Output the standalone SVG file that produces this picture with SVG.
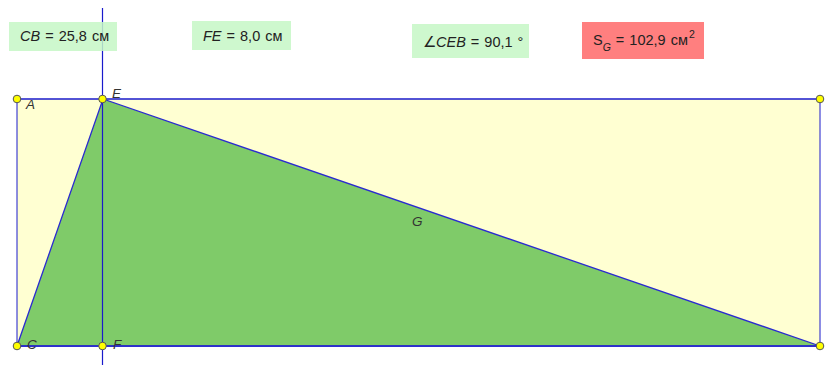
<svg xmlns="http://www.w3.org/2000/svg" width="829" height="365" viewBox="0 0 829 365">
<style>
.t{font-family:"Liberation Sans",Arial,sans-serif;font-size:14.5px;fill:#222}
.lbl{font-family:"Liberation Sans",Arial,sans-serif;font-size:13.5px;font-style:italic;fill:#333}
.edge{stroke:#1a1acc;stroke-width:1.2;fill:none}
.pt{fill:#ffff00;stroke:#555;stroke-width:1}
.box{fill:#c6f7c6;fill-opacity:0.85}
</style>
<rect width="829" height="365" fill="#ffffff"/>
<g id="rectangle">
<polygon points="17,99 820,99 820,346 17,346" fill="#ffffd2" stroke="#1a1acc" stroke-width="1"/>
</g>
<g id="triangle-G">
<polygon points="17,346 103,99 820,346" fill="#7fcb69" stroke="#2a2ad0" stroke-width="1.3"/>
</g>
<g id="connectors">
<line class="edge" x1="102.5" y1="8" x2="102.5" y2="365"/>
<line class="edge" x1="17" y1="99" x2="820" y2="99"/>
<line class="edge" x1="17" y1="346" x2="820" y2="346"/>
</g>
<g id="label-CB">
<rect class="box" x="9" y="22" width="108" height="29"/>
<text class="t" x="20" y="41" word-spacing="1"><tspan font-style="italic">CB</tspan> = 25,8 см</text>
</g>
<g id="label-FE">
<rect class="box" x="192" y="21" width="99" height="29"/>
<text class="t" x="203" y="40.5" word-spacing="1"><tspan font-style="italic">FE</tspan> = 8,0 см</text>
</g>
<g id="label-CEB">
<rect class="box" x="412" y="24" width="117" height="34"/>
<text class="t" x="423" y="46.5" word-spacing="1">∠<tspan font-style="italic">CEB</tspan> = 90,1 °</text>
</g>
<g id="label-SG">
<rect x="582" y="22" width="122" height="37" fill="#ff7f7f"/>
<text class="t" x="593" y="45" word-spacing="1">S<tspan font-size="10.5" font-style="italic" dy="6">G</tspan><tspan dy="-6"> = 102,9 см</tspan><tspan font-size="10.5" dx="1" dy="-7">2</tspan></text>
</g>
<g id="point-A">
<circle class="pt" cx="17" cy="99" r="3.8"/>
<text class="lbl" x="26" y="109">A</text>
</g>
<g id="point-E">
<circle class="pt" cx="102.5" cy="99" r="3.8"/>
<text class="lbl" x="112" y="97.5">E</text>
</g>
<g id="point-D">
<circle class="pt" cx="820" cy="99" r="3.8"/>
</g>
<g id="point-C">
<circle class="pt" cx="17" cy="346" r="3.8"/>
<text class="lbl" x="27" y="349">C</text>
</g>
<g id="point-F">
<circle class="pt" cx="102.5" cy="346" r="3.8"/>
<text class="lbl" x="113" y="349">F</text>
</g>
<g id="point-B">
<circle class="pt" cx="820" cy="346" r="3.8"/>
</g>
<g id="label-G">
<text class="lbl" x="412" y="226">G</text>
</g>
</svg>
